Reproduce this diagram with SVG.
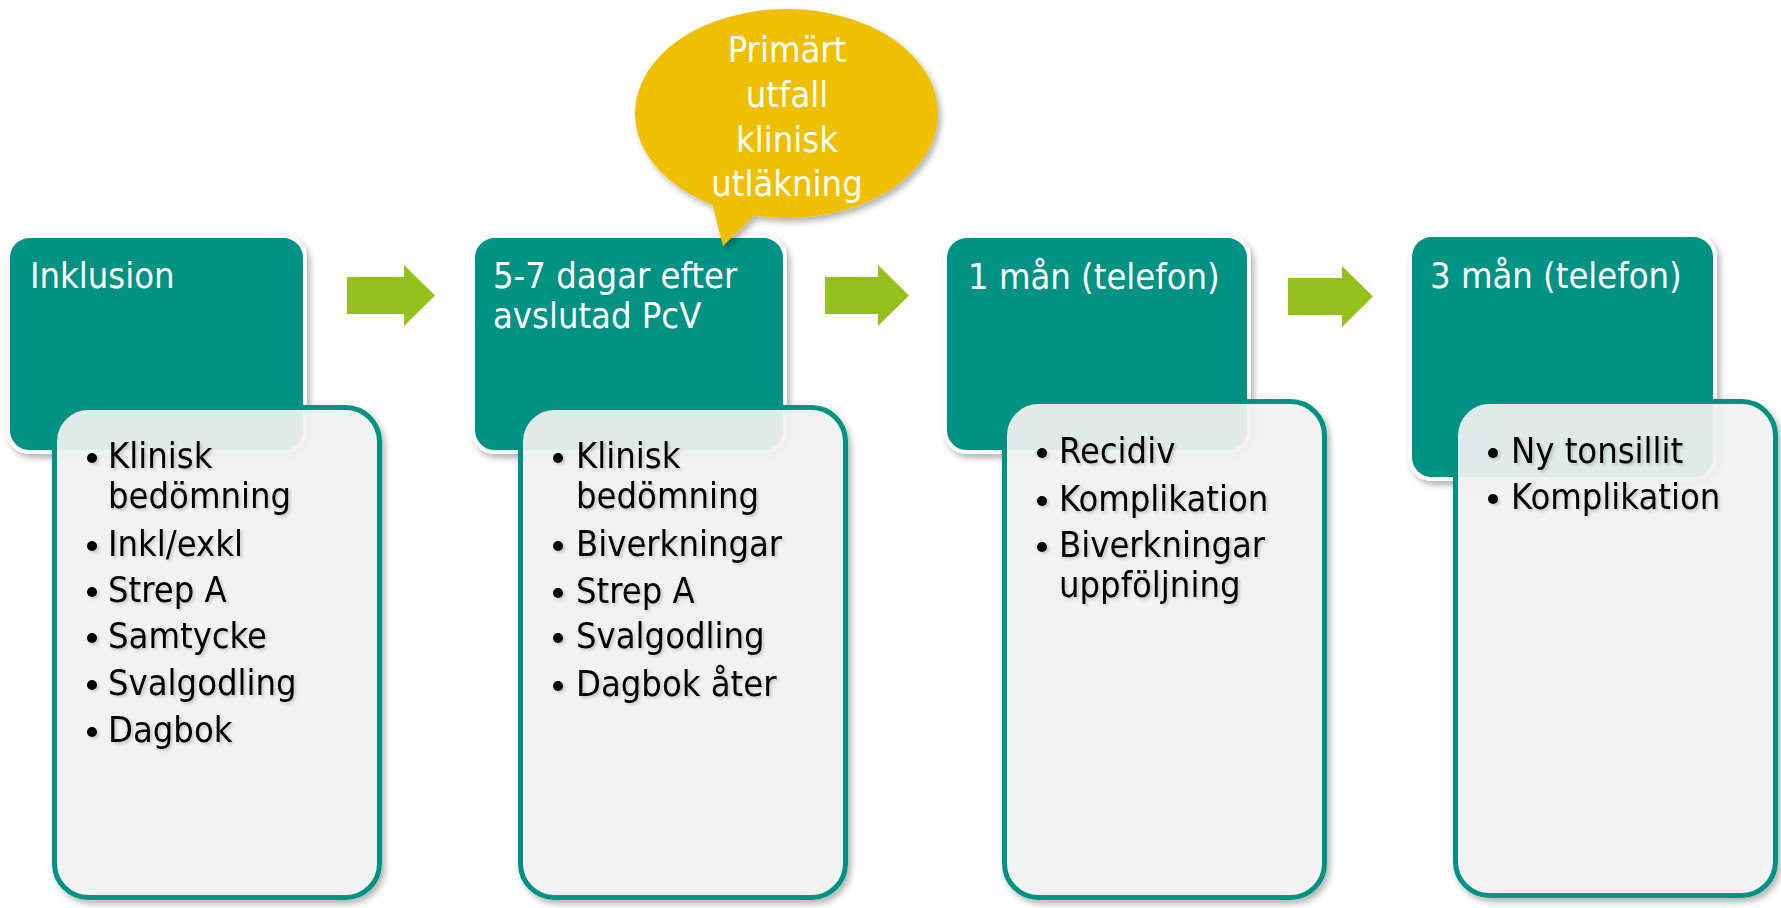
<svg xmlns="http://www.w3.org/2000/svg" width="1781" height="908" viewBox="0 0 1781 908">
<style>
.head{fill:#009384;stroke:#ffffff;stroke-width:4}
.card{fill:#f4f4f4;fill-opacity:0.9;stroke:#009384;stroke-width:5}
.ht{font-family:'DejaVu Sans Condensed','DejaVu Sans',sans-serif;font-stretch:condensed;font-size:36px;fill:#ffffff}
.bt{font-family:'DejaVu Sans Condensed','DejaVu Sans',sans-serif;font-stretch:condensed;font-size:36px;fill:#000000}
.dot{fill:#000000}
.arr{fill:#95C11F}
.bub{fill:#F0C000}
.bubt{font-family:'DejaVu Sans Condensed','DejaVu Sans',sans-serif;font-stretch:condensed;font-size:36px;fill:#ffffff;text-anchor:middle}
</style>
<defs>
<filter id="sh" x="-10%" y="-10%" width="125%" height="125%">
<feDropShadow dx="3" dy="4" stdDeviation="3" flood-color="#000" flood-opacity="0.3"/>
</filter>
<filter id="tsh" x="-5%" y="-20%" width="115%" height="150%">
<feDropShadow dx="2" dy="2" stdDeviation="1.5" flood-color="#000" flood-opacity="0.18"/>
</filter>
</defs>
<rect width="1781" height="908" fill="#ffffff"/>

<g id="connectors">
<polygon class="arr" points="347,277 404,277 404,265 435,295.5 404,326 404,314 347,314"/>
<polygon class="arr" points="825,277 878,277 878,265 909,295.5 878,326 878,314 825,314"/>
<polygon class="arr" points="1288,278 1342,278 1342,266 1373,296.5 1342,327 1342,315 1288,315"/>
</g>

<g id="step1">
<rect class="head" x="8" y="236" width="297" height="216" rx="22" filter="url(#sh)"/>
<text class="ht" x="30" y="288">Inklusion</text>
<rect class="card" x="54.5" y="407.5" width="325" height="490" rx="34" filter="url(#sh)"/>
<g filter="url(#tsh)">
<circle class="dot" cx="92" cy="458" r="5"/><text class="bt" x="108" y="468">Klinisk</text>
<text class="bt" x="108" y="508">bedömning</text>
<circle class="dot" cx="92" cy="546" r="5"/><text class="bt" x="108" y="556">Inkl/exkl</text>
<circle class="dot" cx="92" cy="592" r="5"/><text class="bt" x="108" y="602">Strep A</text>
<circle class="dot" cx="92" cy="638" r="5"/><text class="bt" x="108" y="648">Samtycke</text>
<circle class="dot" cx="92" cy="685" r="5"/><text class="bt" x="108" y="695">Svalgodling</text>
<circle class="dot" cx="92" cy="732" r="5"/><text class="bt" x="108" y="742">Dagbok</text>
</g>
</g>

<g id="step2">
<rect class="head" x="473" y="236" width="312" height="216" rx="22" filter="url(#sh)"/>
<text class="ht" x="493" y="288">5-7 dagar efter</text>
<text class="ht" x="493" y="328">avslutad PcV</text>
<rect class="card" x="520.5" y="407.5" width="325" height="490" rx="34" filter="url(#sh)"/>
<g filter="url(#tsh)">
<circle class="dot" cx="558" cy="458" r="5"/><text class="bt" x="576" y="468">Klinisk</text>
<text class="bt" x="576" y="508">bedömning</text>
<circle class="dot" cx="558" cy="546" r="5"/><text class="bt" x="576" y="556">Biverkningar</text>
<circle class="dot" cx="558" cy="593" r="5"/><text class="bt" x="576" y="603">Strep A</text>
<circle class="dot" cx="558" cy="638" r="5"/><text class="bt" x="576" y="648">Svalgodling</text>
<circle class="dot" cx="558" cy="686" r="5"/><text class="bt" x="576" y="696">Dagbok åter</text>
</g>
</g>

<g id="step3">
<rect class="head" x="945" y="236" width="304" height="216" rx="22" filter="url(#sh)"/>
<text class="ht" x="968" y="289">1 mån (telefon)</text>
<rect class="card" x="1004.5" y="401.5" width="320" height="496" rx="34" filter="url(#sh)"/>
<g filter="url(#tsh)">
<circle class="dot" cx="1042" cy="453" r="5"/><text class="bt" x="1059" y="463">Recidiv</text>
<circle class="dot" cx="1042" cy="501" r="5"/><text class="bt" x="1059" y="511">Komplikation</text>
<circle class="dot" cx="1042" cy="547" r="5"/><text class="bt" x="1059" y="557">Biverkningar</text>
<text class="bt" x="1059" y="597">uppföljning</text>
</g>
</g>

<g id="step4">
<rect class="head" x="1410" y="235" width="305" height="244" rx="22" filter="url(#sh)"/>
<text class="ht" x="1430" y="288">3 mån (telefon)</text>
<rect class="card" x="1455.5" y="401.5" width="320" height="494" rx="34" filter="url(#sh)"/>
<g filter="url(#tsh)">
<circle class="dot" cx="1493" cy="453" r="5"/><text class="bt" x="1511" y="463">Ny tonsillit</text>
<circle class="dot" cx="1493" cy="499" r="5"/><text class="bt" x="1511" y="509">Komplikation</text>
</g>
</g>

<g id="callout">
<g filter="url(#sh)">
<ellipse class="bub" cx="786.5" cy="113.5" rx="151.5" ry="104.5"/>
<polygon class="bub" points="710,195 723,246 765,205"/>
</g>
<text class="bubt" x="787" y="62">Primärt</text>
<text class="bubt" x="787" y="107">utfall</text>
<text class="bubt" x="787" y="152">klinisk</text>
<text class="bubt" x="787" y="196">utläkning</text>
</g>
</svg>
